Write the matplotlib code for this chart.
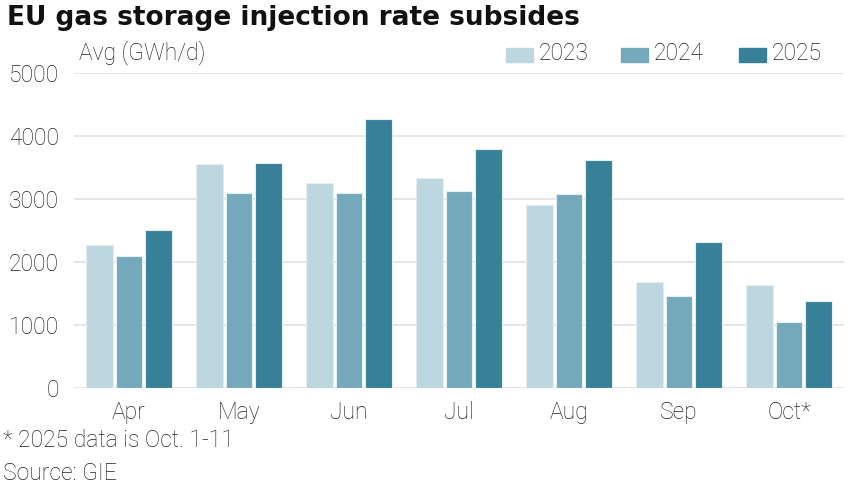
import matplotlib
matplotlib.use("Agg")
import matplotlib.pyplot as plt
import numpy as np

months = ["Apr", "May", "Jun", "Jul", "Aug", "Sep", "Oct*"]
years = ["2023", "2024", "2025"]
vals_2023 = [2270, 3555, 3250, 3340, 2910, 1675, 1640]
vals_2024 = [2095, 3090, 3100, 3130, 3075, 1460, 1050]
vals_2025 = [2515, 3570, 4270, 3800, 3615, 2320, 1380]
colors = ["#bcd7df", "#74a9bb", "#368098"]

W, H = 853, 490
plt.rcParams["font.family"] = ["Roboto", "DejaVu Sans"]
TXT = "#222222"
FS = 16.5

fig = plt.figure(figsize=(W / 100, H / 100), dpi=100)
ax = fig.add_axes([74 / W, (H - 388) / H, 770 / W, (388 - 73) / H])

x = np.arange(len(months))
step = 0.264
for i, (series, c) in enumerate(zip([vals_2023, vals_2024, vals_2025], colors)):
    ax.bar(x + (i - 1) * step, series, width=0.245, color=c,
           edgecolor="#e4eef1", linewidth=0.8, zorder=2)

ax.set_xlim(-0.5, len(months) - 0.5)
ax.set_ylim(0, 5000)
ax.set_yticks([0, 1000, 2000, 3000, 4000, 5000])
ax.set_xticks(x)
ax.set_xticklabels(months)
ax.tick_params(length=0, labelsize=FS, colors=TXT)
ax.tick_params(axis="y", pad=11)
ax.tick_params(axis="x", pad=9)
for lab in ax.get_xticklabels() + ax.get_yticklabels():
    lab.set_fontweight("light")
ax.yaxis.grid(True, color="#e2e2e2", linewidth=1.2, zorder=0)
ax.set_axisbelow(True)
for s in ax.spines.values():
    s.set_visible(False)

fig.text(7 / W, 1 - 18 / H, "EU gas storage injection rate subsides", fontsize=19,
         fontweight="bold", color="#111111", va="center", ha="left",
         family=["DejaVu Sans"])
fig.text(79 / W, 1 - 53 / H, "Avg (GWh/d)", fontsize=FS, fontweight="light",
         color=TXT, va="center", ha="left")

# legend
for xs, yr, c in zip([506, 621, 739], years, colors):
    fig.patches.append(plt.Rectangle((xs / W, 1 - 62 / H), 27 / W, 14 / H,
                                     transform=fig.transFigure, color=c, figure=fig))
    fig.text((xs + 33) / W, 1 - 54 / H, yr, fontsize=FS, fontweight="light",
             color=TXT, va="center", ha="left")

fig.text(3 / W, 1 - 440 / H, "* 2025 data is Oct. 1-11", fontsize=FS,
         fontweight="light", color=TXT, va="center", ha="left")
fig.text(3 / W, 1 - 473 / H, "Source: GIE", fontsize=FS,
         fontweight="light", color=TXT, va="center", ha="left")

fig.savefig("out.png", dpi=100)
